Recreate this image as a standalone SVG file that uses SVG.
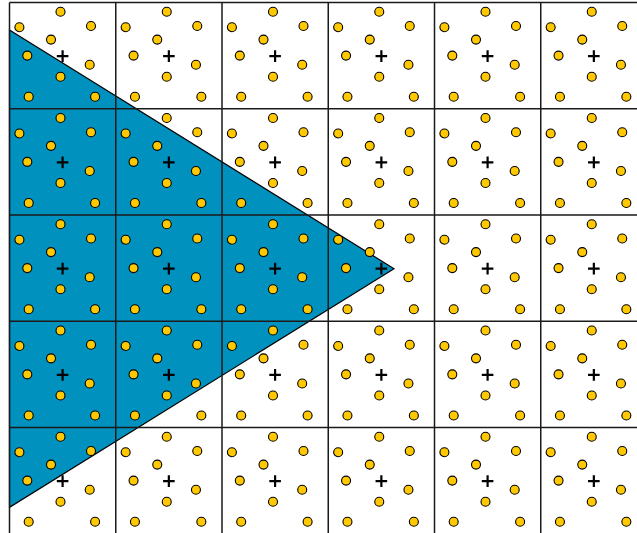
<svg xmlns="http://www.w3.org/2000/svg" xmlns:xlink="http://www.w3.org/1999/xlink" width="637" height="533" viewBox="0 0 637 533">
<style>
.grid{fill:none;stroke:#1a1a1a;stroke-width:1.5}
.dot{fill:#ffc800;stroke:#000;stroke-width:1.1}
.cross{stroke:#000;stroke-width:2.2;fill:none}
.tri{fill:#0091bf;stroke:#000;stroke-width:1.2}
</style>
<defs>
<g id="cellContent">
<circle class="dot" cx="51" cy="9.2" r="4.5"/>
<circle class="dot" cx="9.9" cy="24.8" r="4.5"/>
<circle class="dot" cx="81.5" cy="23.5" r="4.5"/>
<circle class="dot" cx="41.5" cy="37.1" r="4.5"/>
<circle class="dot" cx="17.8" cy="53.1" r="4.5"/>
<circle class="dot" cx="80.2" cy="62.3" r="4.5"/>
<circle class="dot" cx="51" cy="74.3" r="4.5"/>
<circle class="dot" cx="19.2" cy="94.2" r="4.5"/>
<circle class="dot" cx="85.6" cy="94.2" r="4.5"/>
<path class="cross" d="M47.3 53.6H58.9M53.1 47.8V59.4"/>
</g>
</defs>
<rect width="637" height="533" fill="#fff"/>
<g id="triangle">
<polygon class="tri" points="9.5,30 394,268.7 9.5,507.3"/>
</g>
<g id="grid" class="grid">
<path d="M9.5 2.5V540M115.75 2.5V540M222 2.5V540M328.25 2.5V540M434.5 2.5V540M540.75 2.5V540"/>
<path d="M9.5 2.5H640M9.5 108.75H640M9.5 215H640M9.5 321.25H640M9.5 427.5H640"/>
</g>
<g id="cells">
<use xlink:href="#cellContent" href="#cellContent" x="9.5" y="2.5"/>
<use href="#cellContent" x="115.75" y="2.5"/>
<use href="#cellContent" x="222" y="2.5"/>
<use href="#cellContent" x="328.25" y="2.5"/>
<use href="#cellContent" x="434.5" y="2.5"/>
<use href="#cellContent" x="540.75" y="2.5"/>
<use href="#cellContent" x="9.5" y="108.75"/>
<use href="#cellContent" x="115.75" y="108.75"/>
<use href="#cellContent" x="222" y="108.75"/>
<use href="#cellContent" x="328.25" y="108.75"/>
<use href="#cellContent" x="434.5" y="108.75"/>
<use href="#cellContent" x="540.75" y="108.75"/>
<use href="#cellContent" x="9.5" y="215"/>
<use href="#cellContent" x="115.75" y="215"/>
<use href="#cellContent" x="222" y="215"/>
<use href="#cellContent" x="328.25" y="215"/>
<use href="#cellContent" x="434.5" y="215"/>
<use href="#cellContent" x="540.75" y="215"/>
<use href="#cellContent" x="9.5" y="321.25"/>
<use href="#cellContent" x="115.75" y="321.25"/>
<use href="#cellContent" x="222" y="321.25"/>
<use href="#cellContent" x="328.25" y="321.25"/>
<use href="#cellContent" x="434.5" y="321.25"/>
<use href="#cellContent" x="540.75" y="321.25"/>
<use href="#cellContent" x="9.5" y="427.5"/>
<use href="#cellContent" x="115.75" y="427.5"/>
<use href="#cellContent" x="222" y="427.5"/>
<use href="#cellContent" x="328.25" y="427.5"/>
<use href="#cellContent" x="434.5" y="427.5"/>
<use href="#cellContent" x="540.75" y="427.5"/>
</g>
</svg>
